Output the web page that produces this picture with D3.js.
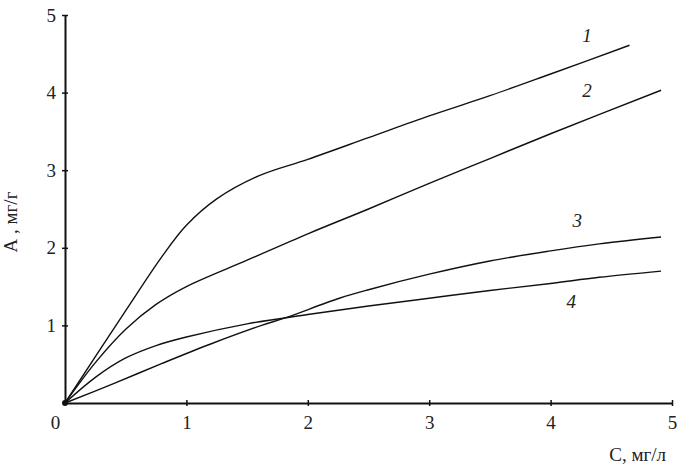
<!DOCTYPE html>
<html>
<head>
<meta charset="utf-8">
<script src="https://cdn.jsdelivr.net/npm/d3@7"></script>
<style>
  body { margin: 0; background: #fff; }
  svg { display: block; }
  text { font-family: "Liberation Serif", "DejaVu Serif", serif; fill: #222; }
</style>
</head>
<body>
<div id="chart"></div>
<script>
// concentration C, mg/l  and adsorption A, mg/g for each curve
var curve1C = [0, 0.5, 0.8, 1.0, 1.25, 1.6, 2.0, 2.5, 3.0, 3.5, 4.0, 4.65];
var curve1A = [0, 1.19, 1.89, 2.29, 2.63, 2.93, 3.14, 3.42, 3.7, 3.96, 4.24, 4.61];
var curve2C = [0, 0.25, 0.5, 0.75, 1.0, 1.5, 2.0, 2.5, 3.0, 3.5, 4.0, 4.91];
var curve2A = [0, 0.52, 0.95, 1.27, 1.5, 1.84, 2.18, 2.5, 2.83, 3.15, 3.47, 4.03];
var curve3C = [0, 0.4, 0.8, 1.2, 1.62, 1.82, 2.26, 2.5, 3.0, 3.5, 4.0, 4.4, 4.91];
var curve3A = [0, 0.25, 0.51, 0.76, 1.0, 1.1, 1.35, 1.46, 1.66, 1.83, 1.96, 2.05, 2.14];
var curve4C = [0, 0.25, 0.5, 0.75, 1.0, 1.5, 2.0, 2.5, 3.0, 3.5, 4.0, 4.4, 4.91];
var curve4A = [0, 0.33, 0.58, 0.74, 0.85, 1.02, 1.14, 1.25, 1.35, 1.45, 1.54, 1.62, 1.70];
var curveLabels = ["1", "2", "3", "4"];
var labelC = [4.3, 4.3, 4.22, 4.17];
var labelA = [4.65, 3.94, 2.27, 1.23];
var xTicks = [0, 1, 2, 3, 4, 5];
var yTicks = [0, 1, 2, 3, 4, 5];
var xTitle = "С, мг/л";
var yTitle = "А , мг/г";

function toPoints(cs, as) {
  var pts = [];
  for (var i = 0; i < cs.length; i++) {
    pts.push({ c: cs[i], a: as[i] });
  }
  return pts;
}

var curves = [
  toPoints(curve1C, curve1A),
  toPoints(curve2C, curve2A),
  toPoints(curve3C, curve3A),
  toPoints(curve4C, curve4A)
];

var width = 682, height = 467;
var margin = { top: 15, right: 10, bottom: 64, left: 65 };

var svg = d3.select("#chart")
  .append("svg")
    .attr("width", width)
    .attr("height", height);

var x = d3.scaleLinear()
  .domain([0, 5])
  .range([margin.left, 672]);

var y = d3.scaleLinear()
  .domain([0, 5])
  .range([403, margin.top]);

// x axis, ticks cross the line
var gx = svg.append("g")
  .attr("transform", "translate(0," + y(0) + ")")
  .call(d3.axisBottom(x).tickValues(xTicks).tickSize(3).tickSizeOuter(0).tickPadding(10)
    .tickFormat(d3.format("d")));
gx.select(".domain").attr("stroke", "#111").attr("stroke-width", 2);
gx.selectAll(".tick line").attr("y1", -3).attr("stroke", "#111").attr("stroke-width", 1.5);
gx.selectAll(".tick").filter(function(d) { return d === 0; }).select("line").remove();
gx.selectAll(".tick text")
  .attr("font-size", 19)
  .attr("dx", function(d) { return d === 0 ? "-10" : "0"; });

// y axis
var gy = svg.append("g")
  .attr("transform", "translate(" + x(0) + ",0)")
  .call(d3.axisLeft(y).tickValues(yTicks).tickSize(3).tickSizeOuter(0).tickPadding(6)
    .tickFormat(d3.format("d")));
gy.select(".domain").attr("stroke", "#111").attr("stroke-width", 2);
gy.selectAll(".tick line").attr("x1", 3).attr("stroke", "#111").attr("stroke-width", 1.5);
gy.selectAll(".tick").filter(function(d) { return d === 0; }).remove();
gy.selectAll(".tick text").attr("font-size", 19);

// origin dot
svg.append("circle")
  .attr("cx", x(0))
  .attr("cy", y(0))
  .attr("r", 3)
  .attr("fill", "#111");

// curves
var line = d3.line()
  .x(function(d) { return x(d.c); })
  .y(function(d) { return y(d.a); })
  .curve(d3.curveCatmullRom.alpha(0.5));

svg.selectAll("path.curve")
  .data(curves)
  .enter()
  .append("path")
    .attr("class", "curve")
    .attr("fill", "none")
    .attr("stroke", "#111")
    .attr("stroke-width", 1.4)
    .attr("d", line);

// curve numbers
svg.selectAll("text.num")
  .data(curveLabels)
  .enter()
  .append("text")
    .attr("class", "num")
    .attr("x", function(d, i) { return x(labelC[i]); })
    .attr("y", function(d, i) { return y(labelA[i]); })
    .attr("text-anchor", "middle")
    .attr("font-size", 19)
    .attr("font-style", "italic")
    .text(function(d) { return d; });

// axis titles
svg.append("text")
  .attr("x", 666)
  .attr("y", 461)
  .attr("text-anchor", "end")
  .attr("font-size", 19)
  .text(xTitle);

svg.append("text")
  .attr("transform", "translate(17,222) rotate(-90)")
  .attr("text-anchor", "middle")
  .attr("font-size", 19)
  .text(yTitle);
</script>
</body>
</html>
